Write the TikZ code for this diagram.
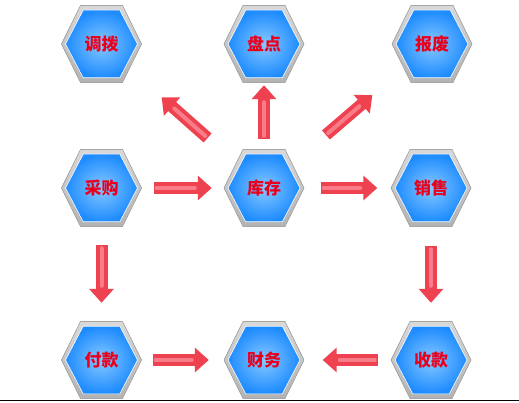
\documentclass[tikz,border=0pt]{standalone}
\usepackage{fontspec}
\newfontfamily\cjk{Noto Sans CJK SC}
\usetikzlibrary{arrows.meta}

\definecolor{hexblue}{RGB}{30,140,255}
\definecolor{hexlight}{RGB}{135,200,255}
\definecolor{arrred}{RGB}{238,66,80}
\definecolor{arrlight}{RGB}{255,150,160}
\definecolor{labred}{RGB}{232,0,28}

\tikzset{
  hexnode/.style={minimum width=81pt, minimum height=78pt, inner sep=0pt,
    text=labred, font=\cjk\bfseries\fontsize{17}{17}\selectfont},
  hexpic/.pic={
    \fill[top color=gray!30, middle color=white, bottom color=gray!60, draw=gray!70, line width=0.6pt]
      (-40,0) -- (-21,-38.5) -- (21,-38.5) -- (40,0) -- (21,38.5) -- (-21,38.5) -- cycle;
    \draw[white, line width=1.4pt]
      (-35.5,0) -- (-18,-33.5) -- (18,-33.5) -- (35.5,0) -- (18,33.5) -- (-18,33.5) -- cycle;
    \shade[inner color=hexlight, outer color=hexblue]
      (-35.5,0) -- (-18,-33.5) -- (18,-33.5) -- (35.5,0) -- (18,33.5) -- (-18,33.5) -- cycle;
  },
  flowarr/.style={arrred, line width=12pt, -{Triangle[width=24pt,length=14pt]}},
  flowhl/.style={arrlight, line width=4pt, line cap=round, opacity=0.7}
}

\begin{document}
\begin{tikzpicture}[x=1pt,y=-1pt]
\useasboundingbox (0,0) rectangle (519,403);

% 六边形节点
\foreach \n/\x/\y/\t in {dj/101.5/44/调拨, pd/264/44/盘点, bf/432/44/报废,
                         cg/101.5/188/采购, kc/264/188/库存, xs/431/188/销售,
                         fk/101.5/360/付款, cw/264/360/财务, sk/431/360/收款}
{
  \pic at (\x,\y) {hexpic};
  \node[hexnode] (\n) at (\x,\y) {\t};
}

% 箭头
\foreach \a/\b/\s/\e in {cg/kc/11.5pt/11.5pt, kc/xs/16pt/13pt, kc/pd/10pt/2pt,
                         kc/dj/21pt/26pt, kc/bf/28pt/25pt, cg/fk/18pt/18pt,
                         xs/sk/19pt/18pt, fk/cw/10.5pt/14.5pt, sk/cw/12.5pt/18pt}
{
  \draw[flowarr, shorten <=\s, shorten >=\e] (\a) -- (\b);
  \draw[flowhl, shorten <=\s+3pt, shorten >=\e+17pt] (\a) -- (\b);
}

% 底边
\draw[line width=1.3pt] (0,400.7) -- (519,400.7);

\end{tikzpicture}
\end{document}
